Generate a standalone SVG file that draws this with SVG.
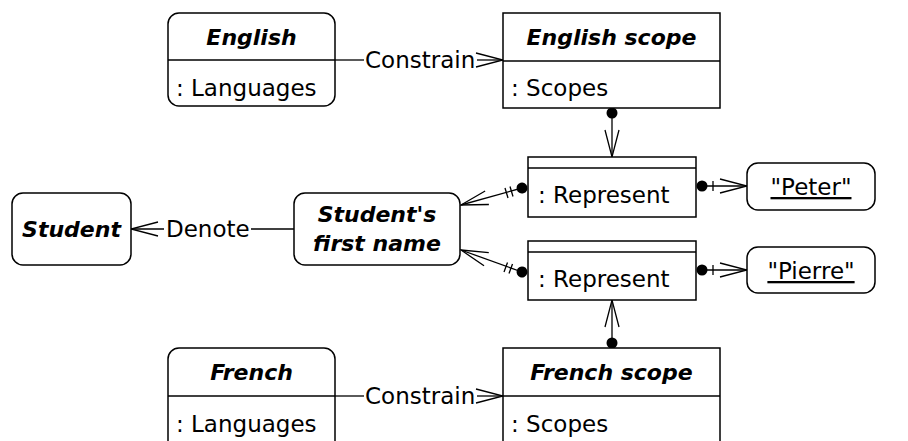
<svg xmlns="http://www.w3.org/2000/svg" width="908" height="441" viewBox="0 0 908 441">
<defs>
<style>
.box{fill:#fff;stroke:#000;stroke-width:1.5}
.ln{fill:none;stroke:#000;stroke-width:1.3}
.t{font-family:"DejaVu Sans","Liberation Sans",sans-serif;font-size:23px;fill:#000}
.ti{font-family:"DejaVu Sans","Liberation Sans",sans-serif;font-size:22px;font-weight:bold;font-style:italic;fill:#000}
.conn{fill:none;stroke:#000;stroke-width:1.3}
</style>
<marker id="arrow" markerUnits="userSpaceOnUse" markerWidth="40" markerHeight="40" viewBox="-30 -20 40 40" refX="0" refY="0" orient="auto" overflow="visible">
<path d="M-27,-7 L0,0 L-27,7" fill="none" stroke="#000" stroke-width="1.3"/>
</marker>
<marker id="dot" markerUnits="userSpaceOnUse" markerWidth="14" markerHeight="14" viewBox="-7 -7 14 14" refX="0" refY="0" orient="auto" overflow="visible">
<circle cx="0" cy="0" r="5.5" fill="#000"/>
</marker>
</defs>

<g id="connectors">
<path class="conn" d="M335,60 H364"/>
<text class="t" x="365" y="68">Constrain</text>
<path class="conn" d="M477,60 H503" marker-end="url(#arrow)"/>

<path class="conn" d="M335,396 H364"/>
<text class="t" x="365" y="404">Constrain</text>
<path class="conn" d="M477,396 H503" marker-end="url(#arrow)"/>

<path class="conn" d="M294,229 H251"/>
<text class="t" x="166" y="237">Denote</text>
<path class="conn" d="M164,229 H131" marker-end="url(#arrow)"/>

<path class="conn" d="M612,113 V157" marker-start="url(#dot)" marker-end="url(#arrow)"/>
<path class="conn" d="M612,343 V300" marker-start="url(#dot)" marker-end="url(#arrow)"/>

<path class="conn" d="M702,186 H747" marker-start="url(#dot)" marker-end="url(#arrow)"/>
<path class="conn" d="M713,181 V191"/>
<path class="conn" d="M702,270 H747" marker-start="url(#dot)" marker-end="url(#arrow)"/>
<path class="conn" d="M713,265 V275"/>

<path class="conn" d="M522,188 L461,205" marker-start="url(#dot)" marker-end="url(#arrow)"/>
<path class="conn" d="M510,186.5 L513,196.5 M505,188 L508,198"/>
<path class="conn" d="M522,272 L461,250" marker-start="url(#dot)" marker-end="url(#arrow)"/>
<path class="conn" d="M512.5,264 L509,273.5 M507.5,262.5 L504,272"/>
</g>

<g id="english">
<rect class="box" x="168" y="13" width="167" height="93" rx="11"/>
<path class="ln" d="M168,60 H335"/>
<text class="ti" x="251.5" y="45" text-anchor="middle">English</text>
<text class="t" x="176" y="96">: Languages</text>
</g>

<g id="english-scope">
<rect class="box" x="503" y="13" width="217" height="95"/>
<path class="ln" d="M503,61 H720"/>
<text class="ti" x="611.5" y="45" text-anchor="middle">English scope</text>
<text class="t" x="511" y="96">: Scopes</text>
</g>

<g id="represent1">
<rect class="box" x="528" y="157" width="168" height="60"/>
<path class="ln" d="M528,168 H696"/>
<text class="t" x="538" y="203">: Represent</text>
</g>

<g id="represent2">
<rect class="box" x="528" y="241" width="168" height="59"/>
<path class="ln" d="M528,252 H696"/>
<text class="t" x="538" y="287">: Represent</text>
</g>

<g id="peter">
<rect class="box" x="747" y="163" width="128" height="47" rx="11"/>
<text class="t" x="811" y="195" text-anchor="middle" text-decoration="underline">"Peter"</text>
</g>

<g id="pierre">
<rect class="box" x="747" y="247" width="128" height="46" rx="11"/>
<text class="t" x="811" y="279" text-anchor="middle" text-decoration="underline">"Pierre"</text>
</g>

<g id="student">
<rect class="box" x="12" y="193" width="119" height="72" rx="11"/>
<text class="ti" x="71.5" y="237" text-anchor="middle">Student</text>
</g>

<g id="students-first-name">
<rect class="box" x="294" y="193" width="166" height="72" rx="11"/>
<text class="ti" x="377" y="222" text-anchor="middle">Student's</text>
<text class="ti" x="377" y="251" text-anchor="middle">first name</text>
</g>

<g id="french">
<rect class="box" x="168" y="348" width="167" height="110" rx="11"/>
<path class="ln" d="M168,396 H335"/>
<text class="ti" x="251.5" y="380" text-anchor="middle">French</text>
<text class="t" x="176" y="432">: Languages</text>
</g>

<g id="french-scope">
<rect class="box" x="503" y="348" width="217" height="110"/>
<path class="ln" d="M503,396 H720"/>
<text class="ti" x="611.5" y="380" text-anchor="middle">French scope</text>
<text class="t" x="511" y="432">: Scopes</text>
</g>
</svg>
